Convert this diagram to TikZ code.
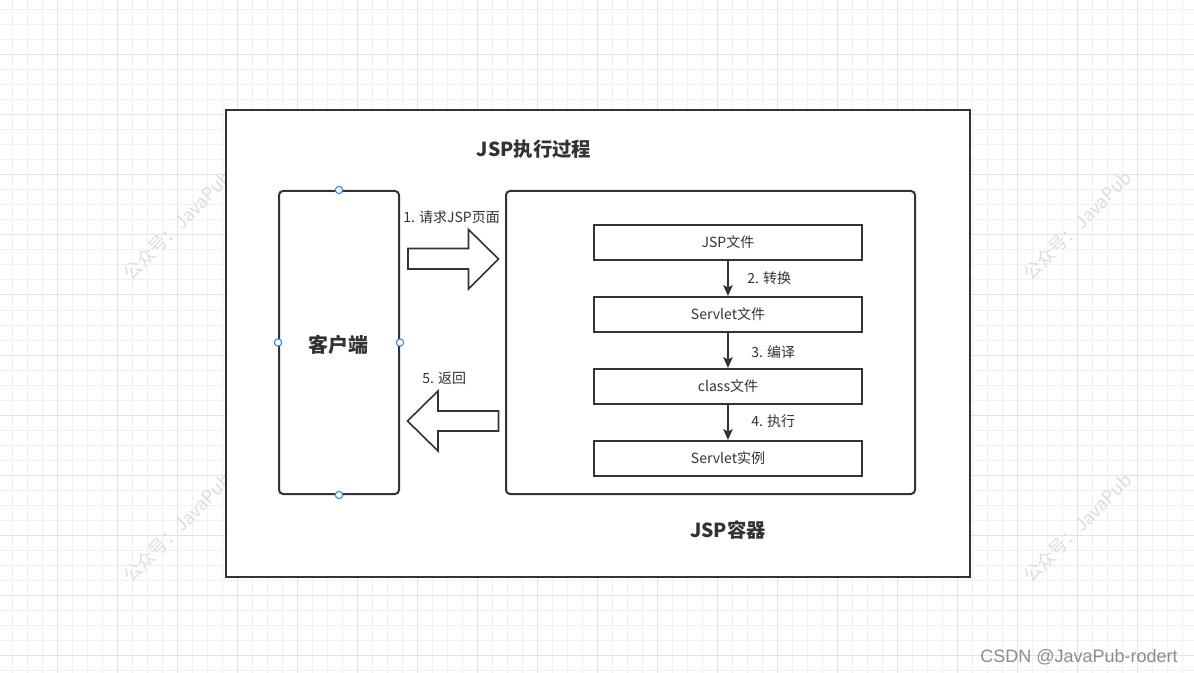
\documentclass[tikz,border=0pt]{standalone}
\usepackage{fontspec}
\setmainfont{Noto Sans CJK SC}
\newfontfamily\csdnfont{Liberation Sans}
\usetikzlibrary{arrows.meta}
\definecolor{ink}{HTML}{333333}
\definecolor{gridminor}{HTML}{F1F1F1}
\definecolor{gridmajor}{HTML}{E2E2E2}
\definecolor{wm}{HTML}{DDDDDD}
\definecolor{handle}{HTML}{2F85F0}
\definecolor{csdngray}{HTML}{8C8C8C}
\tikzset{
  frame/.style={draw=ink, line width=1.1pt, fill=white},
  roundbox/.style={draw=ink, line width=1.5pt, rounded corners=3pt, inner sep=0pt, minimum width=#1, minimum height=227.25pt},
  stepbox/.style={draw=ink, line width=1.5pt, inner sep=0pt, minimum width=201pt, minimum height=26.25pt, text=ink, font=\fontsize{10.5pt}{12pt}\selectfont},
  bigtitle/.style={text=ink, font=\fontsize{14.5pt}{17pt}\selectfont\bfseries},
  smalllabel/.style={text=ink, font=\fontsize{10.5pt}{12pt}\selectfont, inner sep=0pt, anchor=west},
  flow/.style={draw=ink, line width=1.3pt, -{Stealth[length=8pt,width=7pt,inset=1.5pt]}},
  blockarrow/.style={draw=ink, line width=1.2pt, fill=white, line join=miter},
  handlept/.style={circle, draw=handle, fill=white, line width=0.8pt, inner sep=0pt, minimum size=5.5pt},
  watermark/.style={text=wm, rotate=45, inner sep=0pt, font=\fontsize{13.5pt}{16pt}\selectfont}
}
\begin{document}
\begin{tikzpicture}[x=0.75pt,y=-0.75pt]
\useasboundingbox (0,0) rectangle (1194,673);
\fill[white] (0,0) rectangle (1194,673);
% grid
\foreach \k in {0,...,79} {
  \draw[gridminor, line width=0.75pt] ({12.3+15*\k},0) -- ({12.3+15*\k},673);
}
\foreach \k in {0,...,44} {
  \draw[gridminor, line width=0.75pt] (0,{10+15*\k}) -- (1194,{10+15*\k});
}
\foreach \k in {0,...,19} {
  \draw[gridmajor, line width=0.75pt] ({57.3+60*\k},0) -- ({57.3+60*\k},673);
}
\foreach \k in {0,...,10} {
  \draw[gridmajor, line width=0.75pt] (0,{55+60*\k}) -- (1194,{55+60*\k});
}
% watermarks
\node[watermark] (wm1) at (177.5,225.5) {公众号：JavaPub};
\node[watermark] (wm2) at (177.5,528) {公众号：JavaPub};
\node[watermark] (wm3) at (1077.5,225.5) {公众号：JavaPub};
\node[watermark] (wm4) at (1077.5,528) {公众号：JavaPub};
% outer frame
\path[frame] (226,110) rectangle (970,577);
\node[bigtitle] (title) at (534,149) {JSP执行过程};
% client
\node[roundbox=90pt] (client) at (339,342.5) {};
\node[text=ink, font=\fontsize{15pt}{17pt}\selectfont\bfseries] (clientlabel) at (338.5,345) {客户端};
% container
\node[roundbox=306.75pt] (container) at (710.5,342.5) {};
\node[bigtitle] (containerlabel) at (728,530) {JSP容器};
% steps
\node[stepbox] (s1) at (728,242.5) {JSP文件};
\node[stepbox] (s2) at (728,314.5) {Servlet文件};
\node[stepbox] (s3) at (728,386.5) {class文件};
\node[stepbox] (s4) at (728,458.5) {Servlet实例};
\draw[flow] (s1) -- (s2);
\draw[flow] (s2) -- (s3);
\draw[flow] (s3) -- (s4);
\node[smalllabel] (l2) at (747,278.5) {2. 转换};
\node[smalllabel] (l3) at (751,352.5) {3. 编译};
\node[smalllabel] (l4) at (751,421.5) {4. 执行};
% block arrows
\path[blockarrow] (408,248.5) -- (468.5,248.5) -- (468.5,229.5) -- (498.5,259) -- (468.5,289) -- (468.5,269) -- (408,269) -- cycle;
\path[blockarrow] (498.5,411) -- (438,411) -- (438,391) -- (407.5,421) -- (438,451) -- (438,431) -- (498.5,431) -- cycle;
\node[smalllabel] (l1) at (403,217.5) {1. 请求JSP页面};
\node[smalllabel] (l5) at (422,378) {5. 返回};
% handles
\node[handlept] (h1) at (client.north) {};
\node[handlept] (h2) at (client.south) {};
\node[handlept] (h3) at (client.west) {};
\node[handlept] (h4) at (client.east) {};
% csdn
\node[text=csdngray, font=\csdnfont\fontsize{13.5pt}{15pt}\selectfont, anchor=east, inner sep=0pt] (csdn) at (1178,657) {CSDN @JavaPub-rodert};
\end{tikzpicture}
\end{document}
